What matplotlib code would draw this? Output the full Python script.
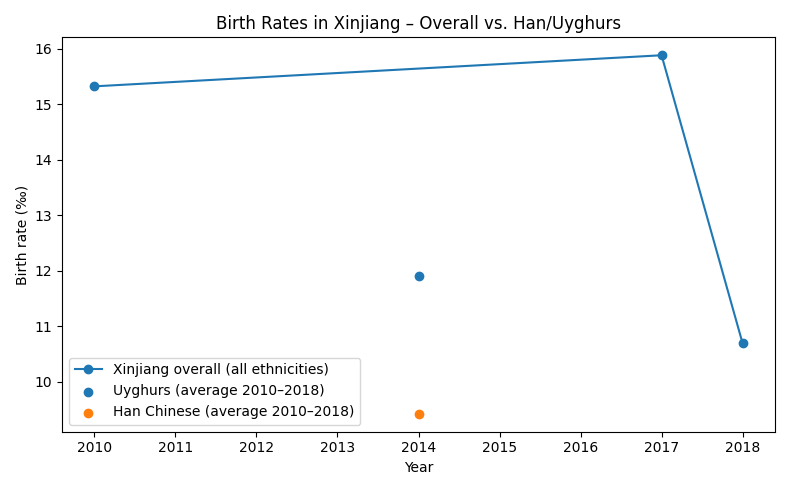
import matplotlib.pyplot as plt

years = [2010, 2017, 2018]
overall = [15.32, 15.88, 10.69]
avg_year = [2014]
uyghur_avg = [11.9]
han_avg = [9.42]

fig, ax = plt.subplots(figsize=(7.9, 4.9), dpi=100)
ax.plot(years, overall, marker="o", label="Xinjiang overall (all ethnicities)")
ax.scatter(avg_year, uyghur_avg, label="Uyghurs (average 2010–2018)")
ax.scatter(avg_year, han_avg, label="Han Chinese (average 2010–2018)")
ax.set_xlabel("Year")
ax.set_ylabel("Birth rate (‰)")
ax.set_title("Birth Rates in Xinjiang – Overall vs. Han/Uyghurs")
ax.legend(loc="lower left")
plt.tight_layout()
plt.savefig("out.png", dpi=100)
plt.close()
